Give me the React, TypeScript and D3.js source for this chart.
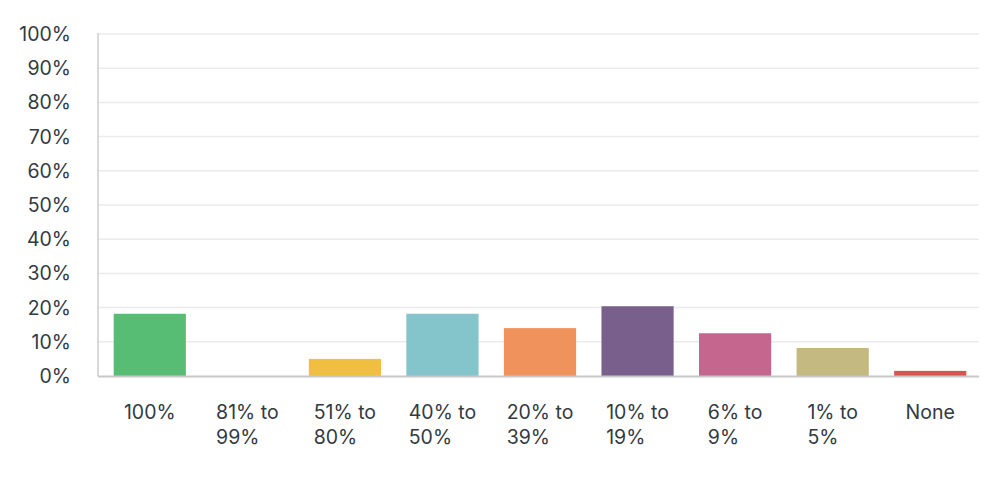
import { useEffect, useRef } from "react";
import * as d3 from "d3";

const categories = [
  "100%",
  "81% to 99%",
  "51% to 80%",
  "40% to 50%",
  "20% to 39%",
  "10% to 19%",
  "6% to 9%",
  "1% to 5%",
  "None",
];
const values = [18.2, 0, 5.0, 18.2, 14.0, 20.4, 12.5, 8.2, 1.5];
const colors = [
  "#57bd74",
  "#9bc95f",
  "#f0bf40",
  "#83c5ca",
  "#f0925c",
  "#79608c",
  "#c4668e",
  "#c3b981",
  "#d9534f",
];
const yTicks = [0, 10, 20, 30, 40, 50, 60, 70, 80, 90, 100];

const W = 1002;
const H = 478;
const margin = { top: 34, right: 23, bottom: 102, left: 98 };
const FONT = "Inter, 'Open Sans', sans-serif";
const FS = 19.5;

const App = () => {
  const svgRef = useRef<SVGSVGElement | null>(null);

  useEffect(() => {
    const svg = d3.select(svgRef.current);
    svg.selectAll("*").remove();

    const x = d3
      .scaleBand<string>()
      .domain(categories)
      .range([margin.left + 3, W - margin.right])
      .paddingInner(0.26)
      .paddingOuter(0.13);

    const y = d3
      .scaleLinear()
      .domain([0, 100])
      .range([H - margin.bottom, margin.top]);

    // gridlines
    svg
      .append("g")
      .selectAll("line")
      .data(yTicks.filter((t) => t > 0))
      .join("line")
      .attr("x1", margin.left)
      .attr("x2", W - margin.right)
      .attr("y1", (d) => y(d))
      .attr("y2", (d) => y(d))
      .attr("stroke", "#ebebeb")
      .attr("stroke-width", 1.5);

    // y labels
    svg
      .append("g")
      .selectAll("text")
      .data(yTicks)
      .join("text")
      .attr("x", 71)
      .attr("y", (d) => y(d))
      .attr("dy", "0.36em")
      .attr("text-anchor", "end")
      .attr("font-family", FONT)
      .attr("font-size", FS)
      .attr("fill", "#333a42")
      .text((d) => `${d}%`);

    // bars
    svg
      .append("g")
      .selectAll("rect")
      .data(categories)
      .join("rect")
      .attr("x", (d) => x(d)!)
      .attr("width", x.bandwidth())
      .attr("y", (_, i) => y(values[i]))
      .attr("height", (_, i) => y(0) - y(values[i]))
      .attr("fill", (_, i) => colors[i]);

    // axes lines
    svg
      .append("line")
      .attr("x1", margin.left)
      .attr("x2", margin.left)
      .attr("y1", margin.top - 1)
      .attr("y2", y(0))
      .attr("stroke", "#cccccc")
      .attr("stroke-width", 1.5);
    svg
      .append("line")
      .attr("x1", margin.left)
      .attr("x2", W - margin.right)
      .attr("y1", y(0) + 0.5)
      .attr("y2", y(0) + 0.5)
      .attr("stroke", "#c8c8c8")
      .attr("stroke-width", 2);

    // category labels: wrapped, block centred, lines left aligned
    const labels = svg.append("g");
    categories.forEach((c) => {
      const lines = c.includes(" to ") ? [c.split(" to ")[0] + " to", c.split(" to ")[1]] : [c];
      const t = labels
        .append("text")
        .attr("font-family", FONT)
        .attr("font-size", FS)
        .attr("fill", "#333a42");
      lines.forEach((l, i) => {
        t.append("tspan").attr("x", 0).attr("y", 418.5 + i * 25).text(l);
      });
      const node = t.node() as SVGTextElement;
      const w = node.getBBox().width;
      const cx = x(c)! + x.bandwidth() / 2;
      t.attr("transform", `translate(${cx - w / 2},0)`);
    });
  }, []);

  return <svg ref={svgRef} width={W} height={H} style={{ display: "block", position: "absolute", left: 0, top: 0 }} />;
};

export default App;
